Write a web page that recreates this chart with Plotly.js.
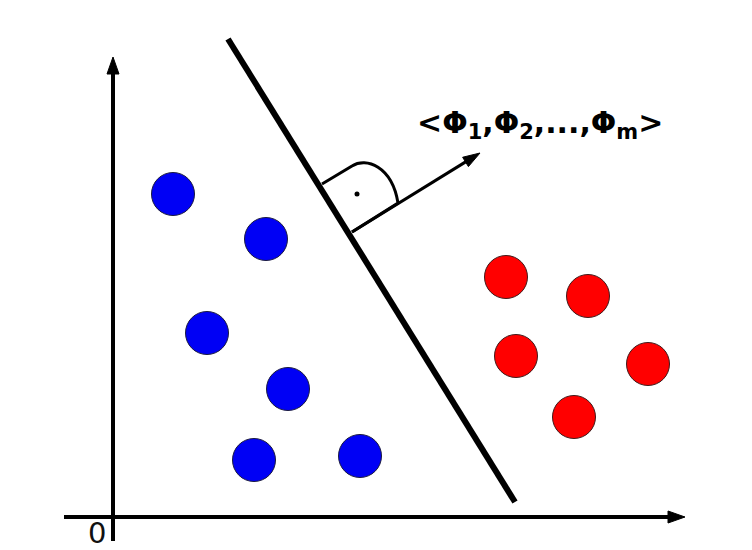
<!DOCTYPE html>
<html>
<head>
<meta charset="utf-8">
<script src="https://cdn.plot.ly/plotly-3.0.1.min.js"></script>
<style>html,body{margin:0;padding:0;background:#fff;}#chart{width:752px;height:550px;}</style>
</head>
<body>
<div id="chart"></div>
<script>
// Class A (blue) points
const blueX = [173, 266, 207, 288, 254, 360];
const blueY = [194, 239, 333, 389, 460, 456];
// Class B (red) points
const redX = [506, 588, 516, 648, 574];
const redY = [277, 296, 356, 364, 417];
// Separating hyperplane endpoints
const sepX = [228, 515];
const sepY = [39, 502];
// Normal vector arrow: start, tip
const normX = [352, 480];
const normY = [232, 153];
// Right-angle mark path points: start on line, edge end, curve controls, end on arrow
const markX = [322, 352, 366, 392, 398];
const markY = [184, 166, 157, 166, 203];
const dotXY = [357, 194];
// Axes: y-axis (bottom, tip) and x-axis (left, tip)
const yAxisX = [113, 113];
const yAxisY = [541, 57];
const xAxisX = [64, 685];
const xAxisY = [517, 517];
const labelText = "<Φ<sub>1</sub>,Φ<sub>2</sub>,...,Φ<sub>m</sub>>";
const originText = "0";

function arrowHead(x0, y0, x1, y1, len, wid) {
  const dx = x1 - x0, dy = y1 - y0, L = Math.hypot(dx, dy);
  const ux = dx / L, uy = dy / L, px = -uy, py = ux;
  const bx = x1 - ux * len, by = y1 - uy * len;
  return {
    x: [x1, bx + px * wid / 2, bx - px * wid / 2, x1],
    y: [y1, by + py * wid / 2, by - py * wid / 2, y1]
  };
}
function shaft(x0, y0, x1, y1, len) {
  const dx = x1 - x0, dy = y1 - y0, L = Math.hypot(dx, dy);
  return {x: [x0, x1 - dx / L * (len - 2)], y: [y0, y1 - dy / L * (len - 2)]};
}

const traces = [];
function addArrow(xs, ys, w, len, wid) {
  const s = shaft(xs[0], ys[0], xs[1], ys[1], len);
  traces.push({x: s.x, y: s.y, mode: 'lines', line: {color: '#000', width: w}, hoverinfo: 'skip'});
  const h = arrowHead(xs[0], ys[0], xs[1], ys[1], len, wid);
  traces.push({x: h.x, y: h.y, mode: 'lines', fill: 'toself', fillcolor: '#000', line: {color: '#000', width: 1}, hoverinfo: 'skip'});
}
addArrow(yAxisX, yAxisY, 4, 17, 12);
addArrow(xAxisX, xAxisY, 4, 17, 12);
traces.push({x: sepX, y: sepY, mode: 'lines', line: {color: '#000', width: 6}, hoverinfo: 'skip'});
addArrow(normX, normY, 3, 17, 11);
traces.push({x: [dotXY[0]], y: [dotXY[1]], mode: 'markers', marker: {color: '#000', size: 5}, hoverinfo: 'skip'});
traces.push({x: blueX, y: blueY, mode: 'markers', marker: {color: '#0000f5', size: 43, line: {color: '#1a1a40', width: 1}}, hoverinfo: 'skip'});
traces.push({x: redX, y: redY, mode: 'markers', marker: {color: '#ff0000', size: 43, line: {color: '#401a1a', width: 1}}, hoverinfo: 'skip'});

const markPath = `M ${markX[0]} ${markY[0]} L ${markX[1]} ${markY[1]} C ${markX[2]} ${markY[2]} ${markX[3]} ${markY[3]} ${markX[4]} ${markY[4]} L ${normX[0]} ${normY[0]}`;

const layout = {
  width: 752, height: 550,
  margin: {l: 0, r: 0, t: 0, b: 0},
  paper_bgcolor: '#fff', plot_bgcolor: '#fff',
  showlegend: false,
  xaxis: {range: [0, 752], visible: false, fixedrange: true},
  yaxis: {range: [550, 0], visible: false, fixedrange: true},
  shapes: [{type: 'path', xref: 'x', yref: 'y', path: markPath, line: {color: '#000', width: 3}}],
  annotations: [
    {x: 415, y: 124, xref: 'x', yref: 'y', xanchor: 'left', yanchor: 'middle', showarrow: false,
     text: '<b>' + labelText + '</b>', font: {family: 'DejaVu Sans', size: 30, color: '#000'}},
    {x: 97, y: 533, xref: 'x', yref: 'y', xanchor: 'center', yanchor: 'middle', showarrow: false,
     borderpad: 0, text: originText, font: {family: 'DejaVu Sans', size: 29, color: '#111'}}
  ]
};
Plotly.newPlot('chart', traces, layout, {staticPlot: true, displayModeBar: false});
</script>
</body>
</html>
